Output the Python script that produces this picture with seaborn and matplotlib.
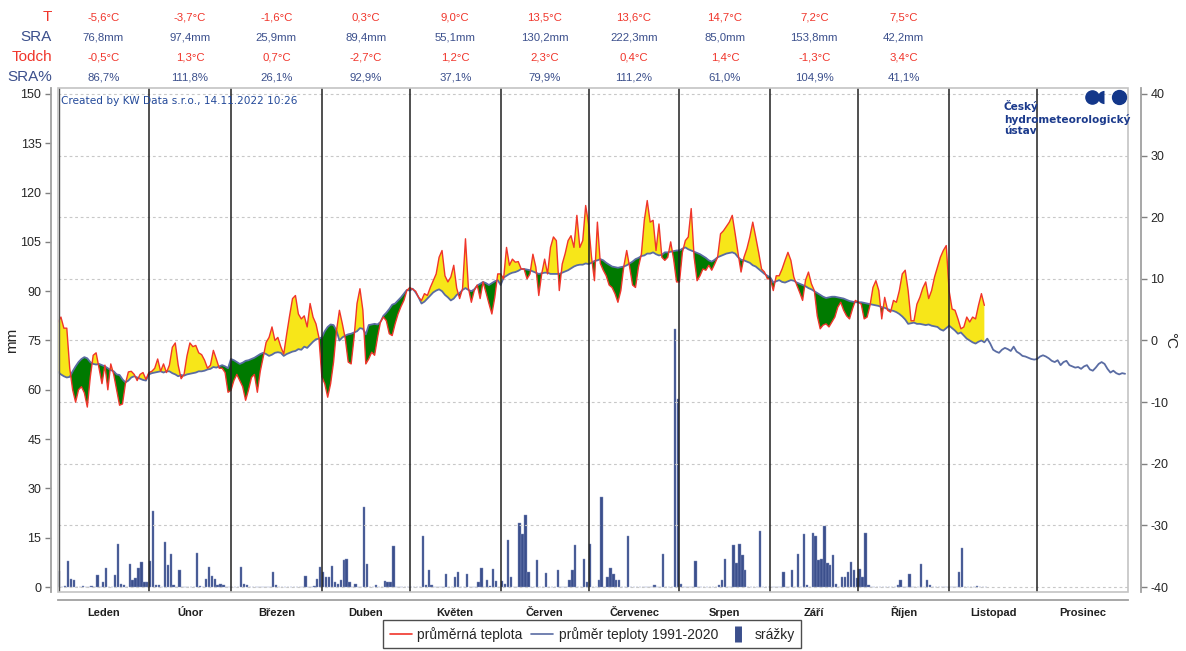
import numpy as np
import pandas as pd
import seaborn as sns
import matplotlib
matplotlib.use("Agg")
import matplotlib.pyplot as plt
from matplotlib.lines import Line2D
from matplotlib.patches import Rectangle
from matplotlib import transforms

# ---- data ----
months = ["Leden", "Únor", "Březen", "Duben", "Květen", "Červen",
          "Červenec", "Srpen", "Září", "Říjen", "Listopad", "Prosinec"]
month_days = [31, 28, 31, 30, 31, 30, 31, 31, 30, 31, 30, 31]

row_t = ["-5,6°C", "-3,7°C", "-1,6°C", "0,3°C", "9,0°C", "13,5°C", "13,6°C", "14,7°C", "7,2°C", "7,5°C"]
row_sra = ["76,8mm", "97,4mm", "25,9mm", "89,4mm", "55,1mm", "130,2mm", "222,3mm", "85,0mm", "153,8mm", "42,2mm"]
row_todch = ["-0,5°C", "1,3°C", "0,7°C", "-2,7°C", "1,2°C", "2,3°C", "0,4°C", "1,4°C", "-1,3°C", "3,4°C"]
row_srap = ["86,7%", "111,8%", "26,1%", "92,9%", "37,1%", "79,9%", "111,2%", "61,0%", "104,9%", "41,1%"]

# daily mean temperature 2022 (°C)
t_jan = [3.0, 3.8, 2.0, 2.0, -4.5, -8.0, -10.0, -8.0, -7.5, -8.5, -10.8, -6.0, -2.4, -2.0, -4.5, -7.0,
         -4.0, -8.0, -3.8, -5.5, -8.0, -10.5, -10.3, -7.0, -5.1, -5.0, -5.5, -6.5, -5.5, -5.2, -6.3]
t_feb = [-5.2, -5.0, -4.5, -3.0, -5.0, -3.8, -5.2, -4.0, -1.1, -0.4, -4.0, -6.2, -5.5, -2.5, -0.4, -1.0,
         -0.8, -2.0, -2.3, -3.2, -4.5, -4.0, -1.6, -3.0, -4.5, -4.5, -5.2, -8.4]
t_mar = [-8.1, -6.5, -5.5, -6.5, -7.5, -9.7, -8.0, -6.0, -5.5, -8.4, -5.0, -2.7, -0.3, 0.5, 2.2, 0.0,
         0.5, -1.0, -2.2, 1.0, 4.0, 6.8, 7.3, 4.3, 3.5, 4.0, 2.2, 6.0, 3.8, 2.7, 0.5]
t_apr = [-5.9, -7.0, -9.2, -7.0, -3.5, 1.6, 4.9, 2.7, 0.3, -3.5, -3.8, 0.5, 6.0, 8.4, 4.9, -3.8,
         -3.0, -1.9, -2.4, 0.5, 3.0, 3.8, 3.2, 1.1, 0.8, 2.7, 4.3, 5.5, 6.5, 8.1]
t_may = [8.6, 8.3, 8.0, 7.0, 6.5, 7.6, 7.3, 8.6, 9.7, 10.8, 13.5, 14.6, 10.5, 9.5, 10.3, 12.2,
         8.5, 6.8, 8.4, 16.5, 8.5, 6.2, 8.1, 9.0, 6.8, 9.5, 7.8, 6.0, 4.3, 7.0, 10.8]
t_jun = [10.8, 10.0, 15.1, 12.2, 13.2, 12.7, 12.8, 11.6, 11.6, 10.0, 10.8, 14.0, 11.9, 7.3, 10.8, 13.2,
         10.8, 15.1, 16.8, 16.2, 8.1, 12.4, 14.1, 16.2, 17.0, 15.1, 20.3, 15.1, 16.2, 21.9]
t_jul = [18.9, 13.5, 9.7, 19.2, 12.5, 11.4, 10.5, 9.0, 8.6, 7.6, 6.2, 8.1, 12.0, 14.6, 11.9, 9.0,
         8.6, 11.9, 14.0, 19.5, 22.7, 19.2, 19.5, 14.6, 18.9, 13.5, 13.0, 13.5, 16.0, 13.2, 9.5]
t_aug = [9.5, 14.3, 16.2, 16.8, 21.4, 13.5, 9.7, 10.5, 11.6, 11.4, 12.2, 11.4, 12.4, 13.5, 17.3, 17.8,
         18.5, 19.2, 20.3, 17.3, 14.1, 11.1, 13.5, 14.9, 16.8, 19.2, 16.8, 14.3, 11.6, 11.1, 10.0]
t_sep = [10.0, 8.1, 10.5, 10.5, 11.6, 13.0, 14.3, 13.0, 10.3, 9.0, 7.8, 6.5, 9.8, 11.1, 9.2, 8.1,
         4.0, 1.9, 2.5, 2.7, 2.2, 3.0, 3.8, 5.4, 6.2, 4.9, 4.0, 3.5, 5.1, 6.5]
t_oct = [6.2, 5.9, 3.5, 3.8, 5.7, 8.6, 9.7, 8.1, 3.5, 7.0, 4.9, 4.6, 6.5, 6.2, 8.1, 10.8,
         11.4, 8.1, 3.2, 3.2, 5.9, 7.0, 8.5, 9.5, 6.8, 8.1, 10.3, 11.9, 13.5, 14.6, 15.4]
t_nov = [8.0, 5.1, 4.9, 3.5, 1.9, 2.2, 3.8, 3.0, 3.8, 3.5, 5.7, 7.6, 5.7]

# daily normal 1991-2020 (°C)
n_jan = [-5.1, -5.5, -5.8, -6.0, -5.9, -5.0, -4.2, -3.5, -3.0, -2.7, -2.9, -3.5, -3.8, -3.9, -3.8, -4.0,
         -4.2, -4.5, -4.8, -5.0, -5.5, -5.6, -6.3, -6.8, -6.5, -6.0, -5.8, -6.0, -6.2, -6.4, -6.5]
n_feb = [-5.5, -5.3, -5.2, -5.1, -5.0, -5.2, -5.0, -5.0, -5.3, -5.5, -5.8, -5.6, -5.7, -5.5, -5.4, -5.3,
         -5.2, -5.0, -5.0, -4.9, -4.7, -4.6, -4.3, -4.4, -4.2, -4.0, -4.2, -4.5]
n_mar = [-3.0, -3.2, -3.5, -3.8, -3.6, -3.3, -3.2, -3.0, -2.8, -2.5, -2.2, -2.0, -2.2, -2.5, -2.3, -2.0,
         -1.9, -2.0, -2.5, -2.2, -2.0, -1.8, -1.7, -1.4, -1.5, -1.0, -1.2, -0.7, -0.2, 0.2, 0.3]
n_apr = [0.5, 1.5, 2.2, 2.6, 2.5, 1.6, 0.0, 0.5, 0.8, 1.0, 1.1, 1.3, 1.5, 2.0, 1.9, 1.0,
         2.5, 2.6, 2.7, 2.6, 3.0, 4.0, 4.5, 5.1, 5.8, 6.0, 6.5, 7.0, 7.6, 8.2]
n_may = [8.1, 8.4, 7.8, 7.0, 6.0, 6.3, 6.8, 7.3, 7.8, 8.1, 8.3, 8.0, 7.4, 7.0, 6.5, 6.8,
         7.4, 7.7, 8.2, 8.5, 8.2, 8.0, 8.3, 8.9, 9.2, 9.5, 9.3, 9.0, 9.3, 9.6, 9.8]
n_jun = [9.0, 10.2, 10.5, 10.8, 11.0, 11.1, 11.3, 11.6, 11.6, 11.5, 11.4, 11.2, 11.0, 10.8, 10.9, 11.0,
         11.0, 10.8, 10.8, 10.8, 10.8, 11.0, 11.2, 11.4, 11.7, 12.0, 12.2, 12.3, 12.3, 12.5]
n_jul = [12.4, 12.6, 12.9, 13.0, 13.2, 13.0, 12.6, 12.3, 12.0, 11.9, 11.8, 11.9, 12.0, 12.2, 12.5, 12.8,
         13.2, 13.4, 13.7, 13.8, 14.1, 14.1, 14.3, 14.0, 13.8, 13.9, 14.3, 14.3, 14.4, 14.5, 14.6]
n_aug = [14.6, 14.9, 15.1, 14.8, 14.6, 14.4, 14.2, 14.0, 13.7, 13.4, 13.0, 12.8, 13.1, 13.5, 13.7, 13.9,
         14.1, 14.2, 14.3, 14.1, 13.5, 13.1, 13.0, 12.8, 12.6, 12.2, 12.0, 11.6, 11.2, 10.8, 10.5]
n_sep = [10.2, 9.4, 9.6, 9.8, 9.5, 9.4, 9.6, 9.8, 9.7, 9.4, 9.2, 9.0, 8.8, 8.5, 8.3, 8.0,
         7.7, 7.4, 7.1, 6.9, 7.0, 7.1, 7.1, 7.0, 6.9, 6.8, 6.6, 6.4, 6.3, 6.2]
n_oct = [6.2, 6.2, 6.1, 6.0, 5.9, 5.8, 5.7, 5.6, 5.4, 5.3, 5.1, 4.9, 4.8, 4.6, 4.3, 3.9,
         3.4, 2.7, 2.8, 2.9, 2.7, 2.7, 2.6, 2.5, 2.6, 2.4, 2.3, 2.2, 1.8, 1.6, 2.0]
n_nov = [2.4, 2.0, 1.6, 1.1, 1.3, 0.8, 0.3, 0.0, -0.3, -0.5, -0.2, 0.0, -0.3, 0.3, -0.5, -1.5,
         -1.8, -2.0, -1.5, -1.2, -1.4, -1.7, -1.0, -1.8, -2.1, -2.5, -2.6, -2.8, -3.0, -3.1]
n_dec = [-3.0, -2.6, -2.4, -2.6, -2.9, -3.3, -3.5, -3.2, -4.0, -3.5, -3.3, -4.0, -4.2, -4.4, -4.3, -4.6,
         -4.2, -4.0, -4.7, -4.9, -4.4, -3.8, -3.5, -3.8, -4.6, -5.2, -4.9, -5.3, -5.5, -5.3, -5.4]

# daily precipitation 2022 (mm)
p_jan = [4.9, 0, 0.3, 8.0, 2.6, 2.3, 0, 0, 0.3, 0, 0, 0.3, 0, 3.6, 0, 1.5,
         5.7, 0, 0, 3.6, 13.2, 1.0, 0.5, 0, 6.9, 2.0, 2.9, 5.8, 7.6, 1.5, 1.5]
p_feb = [8.0, 23.1, 0.7, 0.5, 0, 13.7, 6.6, 10.1, 0.7, 0, 5.1, 0, 0, 0, 0, 0,
         10.3, 0.3, 0, 2.5, 6.0, 3.5, 2.5, 0.7, 0.8, 0.5, 0, 0]
p_mar = [0, 0, 0, 6.1, 1.0, 0.5, 0, 0, 0, 0, 0, 0, 0, 0, 4.5, 0.6,
         0, 0, 0, 0, 0, 0, 0, 0, 0, 3.5, 0, 0, 0.4, 2.5, 6.0]
p_apr = [4.6, 3.0, 3.0, 6.3, 1.5, 1.0, 2.0, 8.3, 8.4, 1.5, 0, 1.0, 0, 0, 24.3, 7.1,
         0, 0, 0.5, 0, 0, 1.8, 1.5, 1.5, 12.4, 0, 0, 0, 0, 0]
p_may = [0, 0, 0, 0, 15.5, 0.5, 5.1, 0.5, 0, 0, 0, 0, 4.1, 0, 0, 3.2,
         4.6, 0, 0, 4.1, 0, 0, 0, 1.5, 5.8, 0, 2.0, 0.3, 5.6, 1.8, 0]
p_jun = [1.8, 1.0, 14.4, 3.2, 0, 0, 19.5, 16.2, 21.8, 4.6, 0, 0, 8.1, 0, 0, 4.3,
         0, 0, 0, 5.1, 0, 0, 0, 2.0, 5.3, 12.9, 0, 0, 8.6, 1.5]
p_jul = [13.2, 0, 0, 2.0, 27.4, 0, 3.2, 5.8, 3.9, 2.0, 2.2, 0, 0, 15.4, 0, 0,
         0, 0, 0, 0, 0, 0, 0.5, 0, 0, 10.1, 0, 0, 0, 78.5, 57.2]
p_aug = [1.0, 0, 0, 0, 0, 7.9, 0, 0, 0, 0, 0, 0, 0, 0.5, 2.0, 8.6,
         0, 0, 12.7, 7.3, 13.2, 9.9, 5.1, 0, 0, 0, 0, 17.0, 0, 0, 0]
p_sep = [0, 0, 0, 0, 4.6, 0, 0, 5.3, 0, 10.1, 0, 16.2, 0.5, 0, 16.4, 15.5,
         8.1, 8.6, 18.7, 7.3, 6.6, 9.9, 1.0, 0, 3.0, 3.0, 4.6, 7.6, 5.1, 2.8]
p_oct = [5.6, 3.0, 16.5, 0.7, 0, 0, 0, 0, 0, 0, 0, 0, 0, 0.5, 2.0, 0,
         0, 4.1, 0, 0, 0, 6.9, 0, 2.2, 0.5, 0, 0, 0, 0, 0, 0]
p_nov = [0, 0, 0, 4.6, 11.9, 0, 0, 0, 0, 0.3, 0, 0, 0]

temp = t_jan + t_feb + t_mar + t_apr + t_may + t_jun + t_jul + t_aug + t_sep + t_oct + t_nov
normal = n_jan + n_feb + n_mar + n_apr + n_may + n_jun + n_jul + n_aug + n_sep + n_oct + n_nov + n_dec
precip = p_jan + p_feb + p_mar + p_apr + p_may + p_jun + p_jul + p_aug + p_sep + p_oct + p_nov

df_norm = pd.DataFrame({"day": np.arange(len(normal)), "normal": normal})
df = df_norm.iloc[:len(temp)].copy()
df["temp"] = temp
df["precip"] = precip

# ---- colours ----
RED = "#f0352b"
NORM = "#5a6ca3"
BAR = "#3b4f8c"
YEL = "#f7e619"
GRN = "#007a00"
LBLUE = "#3b4f8c"
GRID = "#c8c8c8"

sns.set_style("white")
plt.rcParams["font.family"] = ["Liberation Sans", "DejaVu Sans"]
plt.rcParams["axes.unicode_minus"] = False

W, H = 1186, 651
fig = plt.figure(figsize=(W / 100, H / 100), dpi=100)
ax = fig.add_axes([58 / W, 1 - 592 / H, 1070 / W, 504 / H])
ax2 = ax.twinx()

# scales: 0 mm <-> -40 °C, 150 mm <-> 40 °C
mm_lo, mm_hi = -1.5, 151.8
ax.set_ylim(mm_lo, mm_hi)
ax2.set_ylim(mm_lo * 80 / 150 - 40, mm_hi * 80 / 150 - 40)
ax.set_xlim(0, 365)

# precipitation bars
ax.bar(df["day"] + 0.45, df["precip"], width=0.8, color=BAR, edgecolor="#8090c0", linewidth=0.3, zorder=3)

# anomaly fills
x = df["day"].values
tv = df["temp"].values
nv = df["normal"].values
ax2.fill_between(x, tv, nv, where=tv >= nv, interpolate=True, color=YEL, lw=0, zorder=2)
ax2.fill_between(x, tv, nv, where=tv < nv, interpolate=True, color=GRN, lw=0, zorder=2)
sns.lineplot(data=df_norm, x="day", y="normal", ax=ax2, color=NORM, lw=1.3, zorder=4)
sns.lineplot(data=df, x="day", y="temp", ax=ax2, color=RED, lw=1.0, zorder=5)

# month separators
bounds = np.concatenate([[0], np.cumsum(month_days)])
for b in bounds[1:-1]:
    ax2.axvline(b, color="#202020", lw=1.1, zorder=6)
ax2.axvline(0.3, color="#505050", lw=1.0, zorder=6)

# grid on temperature ticks
ax2.set_yticks(np.arange(-40, 41, 10))
ax2.yaxis.grid(True, ls=(0, (2.5, 2.5)), color=GRID, lw=0.8)
ax2.set_axisbelow(True)
ax.set_yticks(np.arange(0, 151, 15))

# frame
ax2.add_patch(Rectangle((0, 0), 1, 1, transform=ax2.transAxes, fill=False, ec="#c4c4c4", lw=1.2,
                        clip_on=False, zorder=7))
for s in ["top", "right"]:
    ax.spines[s].set_visible(False)
for s in ["top", "left", "bottom"]:
    ax2.spines[s].set_visible(False)
ax.spines["left"].set_position(("outward", 5))
ax.spines["bottom"].set_position(("outward", 6))
ax2.spines["right"].set_position(("outward", 9))
for sp in [ax.spines["left"], ax.spines["bottom"], ax2.spines["right"]]:
    sp.set_color("#a0a0a0")
    sp.set_linewidth(1.3)

ax.tick_params(axis="y", length=4, width=1, color="#808080", labelsize=9, pad=3)
ax2.tick_params(axis="y", length=4, width=1, color="#808080", labelsize=9, pad=3)
ax.set_ylabel("mm", fontsize=11)
ax2.set_ylabel("°C", fontsize=11, rotation=270, va="center", ha="center")
ax2.yaxis.set_label_coords(1.039, 0.5)
ax.yaxis.set_label_coords(-0.036, 0.5)

# month axis
ax.set_xticks(bounds[:-1])
ax.set_xticklabels([])
ax.set_xticks(bounds[:-1] + np.array(month_days) / 2, minor=True)
ax.set_xticklabels(months, minor=True, fontsize=8, fontweight="bold", color="#202020", va="baseline")
ax.tick_params(axis="x", which="major", length=3, color="#909090", direction="out")
ax.tick_params(axis="x", which="minor", length=0, pad=11)
ax.set_xlabel("")
ax2.set_xlabel("")

# summary table above the plot
trans = transforms.blended_transform_factory(ax.transData, fig.transFigure)
centers = bounds[:-1] + np.array(month_days) / 2
rows = [("T", row_t, RED), ("SRA", row_sra, LBLUE), ("Todch", row_todch, RED), ("SRA%", row_srap, LBLUE)]
for i, (lab, vals, col) in enumerate(rows):
    yy = 1 - (17 + 20 * i) / H
    fig.text(52 / W, yy, lab, ha="right", va="center", fontsize=11, color=col)
    for c, v in zip(centers, vals):
        fig.text(c, yy, v, transform=trans, ha="center", va="center", fontsize=8.2, color=col)

ax2.text(0.003, 0.985, "Created by KW Data s.r.o., 14.11.2022 10:26", transform=ax2.transAxes,
         ha="left", va="top", fontsize=7.6, color="#244a9a", family="DejaVu Sans", zorder=8)

# logo
fig.text(1004 / W, 1 - 100 / H, "Český\nhydrometeorologický\nústav", ha="left", va="top",
         fontsize=7.6, fontweight="bold", color="#1b3a8c", linespacing=1.2, family="DejaVu Sans")
fig.add_artist(Line2D([1092 / W], [1 - 97 / H], marker="o", ms=9.5, color="#13378a", ls="none",
                      transform=fig.transFigure))
fig.add_artist(Line2D([1104 / W], [1 - 97 / H], marker="o", ms=9.5, color="#13378a", ls="none",
                      fillstyle="left", markerfacecoloralt="none", markeredgewidth=0,
                      transform=fig.transFigure))
fig.add_artist(Line2D([1119 / W], [1 - 97 / H], marker="o", ms=10, color="#13378a", ls="none",
                      transform=fig.transFigure))

# legend
handles = [Line2D([], [], color=RED, lw=1.2),
           Line2D([], [], color=NORM, lw=1.2),
           Line2D([], [], color=BAR, marker="|", ms=11, mew=5, ls="none")]
labels = ["průměrná teplota", "průměr teploty 1991-2020", "srážky"]
leg = fig.legend(handles, labels, loc="lower center", bbox_to_anchor=(592 / W, -0.006), ncol=3,
                 fontsize=10, frameon=True, fancybox=False, edgecolor="#202020",
                 handlelength=1.6, handletextpad=0.4, columnspacing=0.6, borderpad=0.45)
leg.get_frame().set_linewidth(1.0)

fig.savefig("out.png", dpi=100)
